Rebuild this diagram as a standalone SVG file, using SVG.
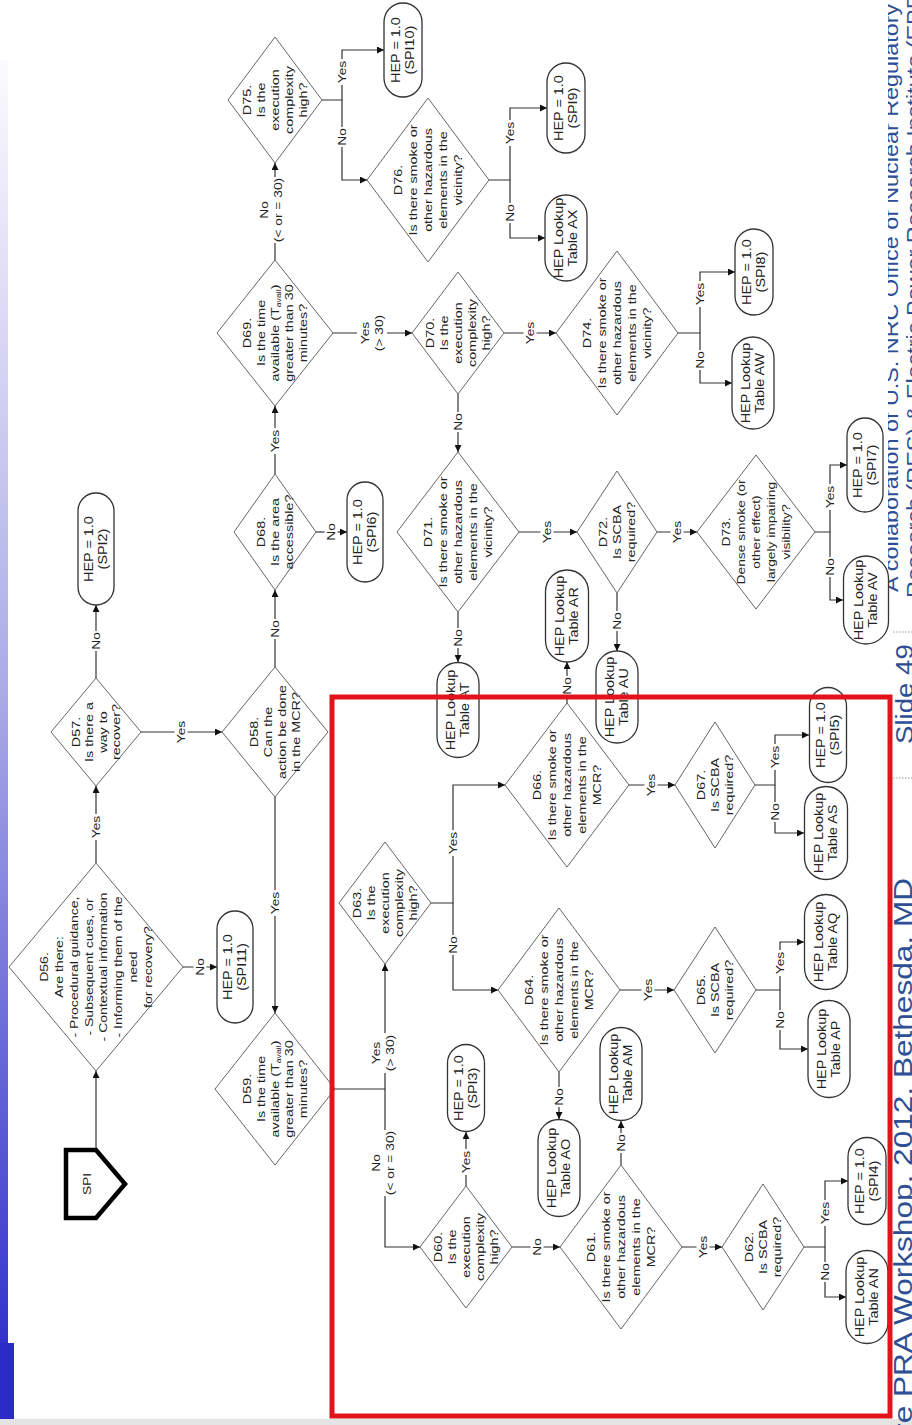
<svg xmlns="http://www.w3.org/2000/svg" width="912" height="1425" viewBox="0 0 912 1425">
<defs>
<style>
.d{fill:#fff;stroke:#666;stroke-width:1}
.p{fill:#fff;stroke:#333;stroke-width:1.3}
.t{font-family:"Liberation Sans",Arial,sans-serif;font-size:11.5px;fill:#222;text-anchor:middle}
.pt{font-size:12px}
.ca{fill:none;stroke:#333;stroke-width:1.2;marker-end:url(#ah)}
.lb{fill:#fff}
.ft{font-family:"Liberation Sans",Arial,sans-serif;fill:#2f4f95}
</style>
<marker id="ah" viewBox="0 0 10 10" refX="10" refY="5" markerWidth="8" markerHeight="7" markerUnits="userSpaceOnUse" orient="auto"><path d="M0,0 L10,5 L0,10 z" fill="#111"/></marker>
<linearGradient id="bar" x1="0" y1="0" x2="0" y2="1"><stop offset="0" stop-color="#fbfbff"/><stop offset="0.5" stop-color="#a9a9e6"/><stop offset="1" stop-color="#3333cc"/></linearGradient>
</defs>
<rect width="912" height="1425" fill="#fff"/>
<g id="slide">
<rect x="0" y="60" width="8" height="1283" fill="url(#bar)"/>
<rect x="0" y="1343" width="14" height="76" fill="#2a2ac6"/>
<rect x="0" y="1419" width="912" height="6" fill="#e4e4e4"/>
<text class="ft" font-size="20" transform="translate(898,592) rotate(-90) scale(1.17,1)">A collaboration of U.S. NRC Office of Nuclear Regulatory</text>
<text class="ft" font-size="20" transform="translate(921,598) rotate(-90) scale(1.17,1)">Research (RES) &amp; Electric Power Research Institute (EPRI)</text>
<rect x="868" y="0" width="20" height="630" fill="#fff"/>
<line x1="893" y1="632" x2="912" y2="632" stroke="#999" stroke-width="1" stroke-dasharray="1.5,1.5"/>
<line x1="893" y1="778" x2="912" y2="778" stroke="#999" stroke-width="1" stroke-dasharray="1.5,1.5"/>
<text class="ft" font-size="24" fill="#1f3b87" transform="translate(913,744) rotate(-90) scale(1.15,1)">Slide 49</text>
<text class="ft" font-size="26" text-anchor="end" transform="translate(912,878) rotate(-90) scale(1.215,1)">Fire PRA Workshop, 2012, Bethesda, MD</text>
</g>

<g id="connectors">
<path class="ca" d="M96,1150 V1071"/>
<path class="ca" d="M96,863 V786"/>
<path class="ca" d="M183,967 H217"/>
<path class="ca" d="M96,678 V605"/>
<path class="ca" d="M141,732 H222"/>
<path class="ca" d="M275,667 V590"/>
<path class="ca" d="M275,797 V1013"/>
<path class="ca" d="M275,474 V406"/>
<path class="ca" d="M316,532 H347"/>
<path class="ca" d="M275,260 V163"/>
<path class="ca" d="M333,333 H412"/>
<path class="ca" d="M322,100 H342 V50 H384"/>
<path class="ca" d="M342,100 V180 H367"/>
<path class="ca" d="M489,180 H510 V108 H547"/>
<path class="ca" d="M510,180 V238 H545"/>
<path class="ca" d="M504,333 H556"/>
<path class="ca" d="M458,394 V452"/>
<path class="ca" d="M678,333 H700 V272 H735"/>
<path class="ca" d="M700,333 V383 H732"/>
<path class="ca" d="M519,532 H577"/>
<path class="ca" d="M458,612 V662"/>
<path class="ca" d="M657,532 H697"/>
<path class="ca" d="M617,593 V651"/>
<path class="ca" d="M815,532 H830 V465 H847"/>
<path class="ca" d="M830,532 V600 H843"/>
<path class="ca" d="M335,1089 H385 V964"/>
<path class="ca" d="M385,1089 V1247 H420"/>
<path class="ca" d="M431,903 H453 V785 H505"/>
<path class="ca" d="M453,903 V990 H498"/>
<path class="ca" d="M567,703 V662"/>
<path class="ca" d="M629,785 H675"/>
<path class="ca" d="M755,785 H775 V735 H809"/>
<path class="ca" d="M775,785 V833 H804"/>
<path class="ca" d="M559,1072 V1119"/>
<path class="ca" d="M620,990 H674"/>
<path class="ca" d="M756,990 H780 V942 H804"/>
<path class="ca" d="M780,990 V1049 H808"/>
<path class="ca" d="M466,1186 V1132"/>
<path class="ca" d="M512,1247 H560"/>
<path class="ca" d="M621,1165 V1121"/>
<path class="ca" d="M682,1247 H722"/>
<path class="ca" d="M804,1247 H825 V1181 H848"/>
<path class="ca" d="M825,1247 V1297 H846"/>
</g>

<g id="labels">
<g transform="translate(96,827)"><rect class="lb" x="-6.5" y="-13" width="13" height="26"/><text class="t" transform="rotate(-90) scale(1.2,1)" y="4">Yes</text></g>
<g transform="translate(200,967)"><rect class="lb" x="-6.5" y="-10" width="13" height="20"/><text class="t" transform="rotate(-90) scale(1.2,1)" y="4">No</text></g>
<g transform="translate(96,641)"><rect class="lb" x="-6.5" y="-10" width="13" height="20"/><text class="t" transform="rotate(-90) scale(1.2,1)" y="4">No</text></g>
<g transform="translate(181,732)"><rect class="lb" x="-6.5" y="-13" width="13" height="26"/><text class="t" transform="rotate(-90) scale(1.2,1)" y="4">Yes</text></g>
<g transform="translate(275,629)"><rect class="lb" x="-6.5" y="-10" width="13" height="20"/><text class="t" transform="rotate(-90) scale(1.2,1)" y="4">No</text></g>
<g transform="translate(275,903)"><rect class="lb" x="-6.5" y="-13" width="13" height="26"/><text class="t" transform="rotate(-90) scale(1.2,1)" y="4">Yes</text></g>
<g transform="translate(275,441)"><rect class="lb" x="-6.5" y="-13" width="13" height="26"/><text class="t" transform="rotate(-90) scale(1.2,1)" y="4">Yes</text></g>
<g transform="translate(331,532)"><rect class="lb" x="-6.5" y="-10" width="13" height="20"/><text class="t" transform="rotate(-90) scale(1.2,1)" y="4">No</text></g>
<g transform="translate(271,210)"><rect class="lb" x="-15" y="-33" width="30" height="66"/><text class="t" transform="rotate(-90) scale(1.2,1)"><tspan x="0" y="-3">No</tspan><tspan x="0" y="11">(&lt; or = 30)</tspan></text></g>
<g transform="translate(372,333)"><rect class="lb" x="-15" y="-20" width="30" height="40"/><text class="t" transform="rotate(-90) scale(1.2,1)"><tspan x="0" y="-3">Yes</tspan><tspan x="0" y="11">(&gt; 30)</tspan></text></g>
<g transform="translate(342,72)"><rect class="lb" x="-6.5" y="-13" width="13" height="26"/><text class="t" transform="rotate(-90) scale(1.2,1)" y="4">Yes</text></g>
<g transform="translate(342,137)"><rect class="lb" x="-6.5" y="-10" width="13" height="20"/><text class="t" transform="rotate(-90) scale(1.2,1)" y="4">No</text></g>
<g transform="translate(510,133)"><rect class="lb" x="-6.5" y="-13" width="13" height="26"/><text class="t" transform="rotate(-90) scale(1.2,1)" y="4">Yes</text></g>
<g transform="translate(510,213)"><rect class="lb" x="-6.5" y="-10" width="13" height="20"/><text class="t" transform="rotate(-90) scale(1.2,1)" y="4">No</text></g>
<g transform="translate(530,333)"><rect class="lb" x="-6.5" y="-13" width="13" height="26"/><text class="t" transform="rotate(-90) scale(1.2,1)" y="4">Yes</text></g>
<g transform="translate(458,422)"><rect class="lb" x="-6.5" y="-10" width="13" height="20"/><text class="t" transform="rotate(-90) scale(1.2,1)" y="4">No</text></g>
<g transform="translate(700,294)"><rect class="lb" x="-6.5" y="-13" width="13" height="26"/><text class="t" transform="rotate(-90) scale(1.2,1)" y="4">Yes</text></g>
<g transform="translate(700,360)"><rect class="lb" x="-6.5" y="-10" width="13" height="20"/><text class="t" transform="rotate(-90) scale(1.2,1)" y="4">No</text></g>
<g transform="translate(547,532)"><rect class="lb" x="-6.5" y="-13" width="13" height="26"/><text class="t" transform="rotate(-90) scale(1.2,1)" y="4">Yes</text></g>
<g transform="translate(458,638)"><rect class="lb" x="-6.5" y="-10" width="13" height="20"/><text class="t" transform="rotate(-90) scale(1.2,1)" y="4">No</text></g>
<g transform="translate(677,532)"><rect class="lb" x="-6.5" y="-13" width="13" height="26"/><text class="t" transform="rotate(-90) scale(1.2,1)" y="4">Yes</text></g>
<g transform="translate(617,621)"><rect class="lb" x="-6.5" y="-10" width="13" height="20"/><text class="t" transform="rotate(-90) scale(1.2,1)" y="4">No</text></g>
<g transform="translate(830,497)"><rect class="lb" x="-6.5" y="-13" width="13" height="26"/><text class="t" transform="rotate(-90) scale(1.2,1)" y="4">Yes</text></g>
<g transform="translate(830,567)"><rect class="lb" x="-6.5" y="-10" width="13" height="20"/><text class="t" transform="rotate(-90) scale(1.2,1)" y="4">No</text></g>
<g transform="translate(383,1053)"><rect class="lb" x="-15" y="-20" width="30" height="40"/><text class="t" transform="rotate(-90) scale(1.2,1)"><tspan x="0" y="-3">Yes</tspan><tspan x="0" y="11">(&gt; 30)</tspan></text></g>
<g transform="translate(383,1163)"><rect class="lb" x="-15" y="-33" width="30" height="66"/><text class="t" transform="rotate(-90) scale(1.2,1)"><tspan x="0" y="-3">No</tspan><tspan x="0" y="11">(&lt; or = 30)</tspan></text></g>
<g transform="translate(453,843)"><rect class="lb" x="-6.5" y="-13" width="13" height="26"/><text class="t" transform="rotate(-90) scale(1.2,1)" y="4">Yes</text></g>
<g transform="translate(453,945)"><rect class="lb" x="-6.5" y="-10" width="13" height="20"/><text class="t" transform="rotate(-90) scale(1.2,1)" y="4">No</text></g>
<g transform="translate(567,686)"><rect class="lb" x="-6.5" y="-10" width="13" height="20"/><text class="t" transform="rotate(-90) scale(1.2,1)" y="4">No</text></g>
<g transform="translate(651,785)"><rect class="lb" x="-6.5" y="-13" width="13" height="26"/><text class="t" transform="rotate(-90) scale(1.2,1)" y="4">Yes</text></g>
<g transform="translate(775,757)"><rect class="lb" x="-6.5" y="-13" width="13" height="26"/><text class="t" transform="rotate(-90) scale(1.2,1)" y="4">Yes</text></g>
<g transform="translate(775,812)"><rect class="lb" x="-6.5" y="-10" width="13" height="20"/><text class="t" transform="rotate(-90) scale(1.2,1)" y="4">No</text></g>
<g transform="translate(559,1097)"><rect class="lb" x="-6.5" y="-10" width="13" height="20"/><text class="t" transform="rotate(-90) scale(1.2,1)" y="4">No</text></g>
<g transform="translate(648,990)"><rect class="lb" x="-6.5" y="-13" width="13" height="26"/><text class="t" transform="rotate(-90) scale(1.2,1)" y="4">Yes</text></g>
<g transform="translate(780,963)"><rect class="lb" x="-6.5" y="-13" width="13" height="26"/><text class="t" transform="rotate(-90) scale(1.2,1)" y="4">Yes</text></g>
<g transform="translate(780,1020)"><rect class="lb" x="-6.5" y="-10" width="13" height="20"/><text class="t" transform="rotate(-90) scale(1.2,1)" y="4">No</text></g>
<g transform="translate(466,1162)"><rect class="lb" x="-6.5" y="-13" width="13" height="26"/><text class="t" transform="rotate(-90) scale(1.2,1)" y="4">Yes</text></g>
<g transform="translate(537,1247)"><rect class="lb" x="-6.5" y="-10" width="13" height="20"/><text class="t" transform="rotate(-90) scale(1.2,1)" y="4">No</text></g>
<g transform="translate(621,1143)"><rect class="lb" x="-6.5" y="-10" width="13" height="20"/><text class="t" transform="rotate(-90) scale(1.2,1)" y="4">No</text></g>
<g transform="translate(703,1247)"><rect class="lb" x="-6.5" y="-13" width="13" height="26"/><text class="t" transform="rotate(-90) scale(1.2,1)" y="4">Yes</text></g>
<g transform="translate(825,1213)"><rect class="lb" x="-6.5" y="-13" width="13" height="26"/><text class="t" transform="rotate(-90) scale(1.2,1)" y="4">Yes</text></g>
<g transform="translate(825,1272)"><rect class="lb" x="-6.5" y="-10" width="13" height="20"/><text class="t" transform="rotate(-90) scale(1.2,1)" y="4">No</text></g>
</g>

<g id="SPI"><polygon points="66,1150 96,1150 125,1184 96,1218 66,1218" fill="#fff" stroke="#000" stroke-width="4.5" stroke-linejoin="miter"/><text class="t" transform="translate(87,1184) rotate(-90) scale(1.2,1)" y="4">SPI</text></g>

<g id="D56" transform="translate(96,967)"><polygon class="d" points="0,-104 87,0 0,104 -87,0"/><text class="t" transform="rotate(-90) scale(1.22,1)"><tspan x="0" y="-48.5">D56.</tspan><tspan x="0" y="-33.5">Are there:</tspan><tspan x="0" y="-18.5">- Procedural guidance,</tspan><tspan x="0" y="-3.5">- Subsequent cues, or</tspan><tspan x="0" y="11.5">- Contextual information</tspan><tspan x="0" y="26.5">- Informing them of the</tspan><tspan x="0" y="41.5">need</tspan><tspan x="0" y="56.5">for recovery?</tspan></text></g>
<g id="D57" transform="translate(96,732)"><polygon class="d" points="0,-54 45,0 0,54 -45,0"/><text class="t" transform="rotate(-90) scale(1.25,1)"><tspan x="0" y="-16">D57.</tspan><tspan x="0" y="-3">Is there a</tspan><tspan x="0" y="10.5">way to</tspan><tspan x="0" y="24">recover?</tspan></text></g>
<g id="D58" transform="translate(275,732)"><polygon class="d" points="0,-65 53,0 0,65 -53,0"/><text class="t" transform="rotate(-90) scale(1.25,1)"><tspan x="0" y="-17">D58.</tspan><tspan x="0" y="-3">Can the</tspan><tspan x="0" y="11">action be done</tspan><tspan x="0" y="25">in the MCR?</tspan></text></g>
<g id="D68" transform="translate(275,532)"><polygon class="d" points="0,-58 41,0 0,58 -41,0"/><text class="t" transform="rotate(-90) scale(1.25,1)"><tspan x="0" y="-10">D68.</tspan><tspan x="0" y="4">Is the area</tspan><tspan x="0" y="18">accessible?</tspan></text></g>
<g id="D69" transform="translate(275,333)"><polygon class="d" points="0,-73 58,0 0,73 -58,0"/><text class="t" transform="rotate(-90) scale(1.25,1)"><tspan x="0" y="-24">D69.</tspan><tspan x="0" y="-10">Is the time</tspan><tspan x="0" y="4">available  (T<tspan font-size="7" dy="2">avail</tspan><tspan dy="-2">)</tspan></tspan><tspan x="0" y="18">greater than 30</tspan><tspan x="0" y="32">minutes?</tspan></text></g>
<g id="D59" transform="translate(275,1089)"><polygon class="d" points="0,-76 60,0 0,76 -60,0"/><text class="t" transform="rotate(-90) scale(1.25,1)"><tspan x="0" y="-24">D59.</tspan><tspan x="0" y="-10">Is the time</tspan><tspan x="0" y="4">available  (T<tspan font-size="7" dy="2">avail</tspan><tspan dy="-2">)</tspan></tspan><tspan x="0" y="18">greater than 30</tspan><tspan x="0" y="32">minutes?</tspan></text></g>
<g id="D75" transform="translate(275,100)"><polygon class="d" points="0,-63 47,0 0,63 -47,0"/><text class="t" transform="rotate(-90) scale(1.25,1)"><tspan x="0" y="-24">D75.</tspan><tspan x="0" y="-10">Is the</tspan><tspan x="0" y="4">execution</tspan><tspan x="0" y="18">complexity</tspan><tspan x="0" y="32">high?</tspan></text></g>
<g id="D76" transform="translate(428,180)"><polygon class="d" points="0,-82 61,0 0,82 -61,0"/><text class="t" transform="rotate(-90) scale(1.25,1)"><tspan x="0" y="-26">D76.</tspan><tspan x="0" y="-11">Is there smoke or</tspan><tspan x="0" y="4">other hazardous</tspan><tspan x="0" y="19">elements in the</tspan><tspan x="0" y="34">vicinity?</tspan></text></g>
<g id="D70" transform="translate(458,333)"><polygon class="d" points="0,-61 46,0 0,61 -46,0"/><text class="t" transform="rotate(-90) scale(1.25,1)"><tspan x="0" y="-24">D70.</tspan><tspan x="0" y="-10">Is the</tspan><tspan x="0" y="4">execution</tspan><tspan x="0" y="18">complexity</tspan><tspan x="0" y="32">high?</tspan></text></g>
<g id="D74" transform="translate(617,333)"><polygon class="d" points="0,-82 61,0 0,82 -61,0"/><text class="t" transform="rotate(-90) scale(1.25,1)"><tspan x="0" y="-26">D74.</tspan><tspan x="0" y="-11">Is there smoke or</tspan><tspan x="0" y="4">other hazardous</tspan><tspan x="0" y="19">elements in the</tspan><tspan x="0" y="34">vicinity?</tspan></text></g>
<g id="D71" transform="translate(458,532)"><polygon class="d" points="0,-80 61,0 0,80 -61,0"/><text class="t" transform="rotate(-90) scale(1.25,1)"><tspan x="0" y="-26">D71.</tspan><tspan x="0" y="-11">Is there smoke or</tspan><tspan x="0" y="4">other hazardous</tspan><tspan x="0" y="19">elements in the</tspan><tspan x="0" y="34">vicinity?</tspan></text></g>
<g id="D72" transform="translate(617,532)"><polygon class="d" points="0,-61 40,0 0,61 -40,0"/><text class="t" transform="rotate(-90) scale(1.25,1)"><tspan x="0" y="-10">D72.</tspan><tspan x="0" y="4">Is SCBA</tspan><tspan x="0" y="18">required?</tspan></text></g>
<g id="D73" transform="translate(756,532)"><polygon class="d" points="0,-77 59,0 0,77 -59,0"/><text class="t" transform="rotate(-90) scale(1.2,1)"><tspan x="0" y="-26">D73.</tspan><tspan x="0" y="-11">Dense smoke (or</tspan><tspan x="0" y="4">other effect)</tspan><tspan x="0" y="19">largely impairing</tspan><tspan x="0" y="34">visibility?</tspan></text></g>
<g id="D63" transform="translate(385,903)"><polygon class="d" points="0,-61 46,0 0,61 -46,0"/><text class="t" transform="rotate(-90) scale(1.25,1)"><tspan x="0" y="-24">D63.</tspan><tspan x="0" y="-10">Is the</tspan><tspan x="0" y="4">execution</tspan><tspan x="0" y="18">complexity</tspan><tspan x="0" y="32">high?</tspan></text></g>
<g id="D66" transform="translate(567,785)"><polygon class="d" points="0,-82 62,0 0,82 -62,0"/><text class="t" transform="rotate(-90) scale(1.25,1)"><tspan x="0" y="-26">D66.</tspan><tspan x="0" y="-11">Is there smoke or</tspan><tspan x="0" y="4">other hazardous</tspan><tspan x="0" y="19">elements in the</tspan><tspan x="0" y="34">MCR?</tspan></text></g>
<g id="D67" transform="translate(715,785)"><polygon class="d" points="0,-63 40,0 0,63 -40,0"/><text class="t" transform="rotate(-90) scale(1.25,1)"><tspan x="0" y="-10">D67.</tspan><tspan x="0" y="4">Is SCBA</tspan><tspan x="0" y="18">required?</tspan></text></g>
<g id="D64" transform="translate(559,990)"><polygon class="d" points="0,-82 61,0 0,82 -61,0"/><text class="t" transform="rotate(-90) scale(1.25,1)"><tspan x="0" y="-26">D64.</tspan><tspan x="0" y="-11">Is there smoke or</tspan><tspan x="0" y="4">other hazardous</tspan><tspan x="0" y="19">elements in the</tspan><tspan x="0" y="34">MCR?</tspan></text></g>
<g id="D65" transform="translate(715,990)"><polygon class="d" points="0,-63 41,0 0,63 -41,0"/><text class="t" transform="rotate(-90) scale(1.25,1)"><tspan x="0" y="-10">D65.</tspan><tspan x="0" y="4">Is SCBA</tspan><tspan x="0" y="18">required?</tspan></text></g>
<g id="D60" transform="translate(466,1247)"><polygon class="d" points="0,-61 46,0 0,61 -46,0"/><text class="t" transform="rotate(-90) scale(1.25,1)"><tspan x="0" y="-24">D60.</tspan><tspan x="0" y="-10">Is the</tspan><tspan x="0" y="4">execution</tspan><tspan x="0" y="18">complexity</tspan><tspan x="0" y="32">high?</tspan></text></g>
<g id="D61" transform="translate(621,1247)"><polygon class="d" points="0,-82 61,0 0,82 -61,0"/><text class="t" transform="rotate(-90) scale(1.25,1)"><tspan x="0" y="-26">D61.</tspan><tspan x="0" y="-11">Is there smoke or</tspan><tspan x="0" y="4">other hazardous</tspan><tspan x="0" y="19">elements in the</tspan><tspan x="0" y="34">MCR?</tspan></text></g>
<g id="D62" transform="translate(763,1247)"><polygon class="d" points="0,-63 41,0 0,63 -41,0"/><text class="t" transform="rotate(-90) scale(1.25,1)"><tspan x="0" y="-10">D62.</tspan><tspan x="0" y="4">Is SCBA</tspan><tspan x="0" y="18">required?</tspan></text></g>

<g id="SPI2" transform="translate(96,549)"><rect class="p" x="-18" y="-56" width="36" height="112" rx="18"/><text class="t pt" transform="rotate(-90) scale(1.2,1)"><tspan x="0" y="-3">HEP = 1.0</tspan><tspan x="0" y="11.5">(SPI2)</tspan></text></g>
<g id="SPI11" transform="translate(235,967)"><rect class="p" x="-18" y="-56" width="36" height="112" rx="18"/><text class="t pt" transform="rotate(-90) scale(1.2,1)"><tspan x="0" y="-3">HEP = 1.0</tspan><tspan x="0" y="11.5">(SPI11)</tspan></text></g>
<g id="SPI6" transform="translate(365,532)"><rect class="p" x="-18" y="-50" width="36" height="100" rx="18"/><text class="t pt" transform="rotate(-90) scale(1.2,1)"><tspan x="0" y="-3">HEP = 1.0</tspan><tspan x="0" y="11.5">(SPI6)</tspan></text></g>
<g id="SPI10" transform="translate(403,50)"><rect class="p" x="-19" y="-47" width="38" height="94" rx="19"/><text class="t pt" transform="rotate(-90) scale(1.2,1)"><tspan x="0" y="-3">HEP = 1.0</tspan><tspan x="0" y="11.5">(SPI10)</tspan></text></g>
<g id="SPI9" transform="translate(566,108)"><rect class="p" x="-19" y="-45" width="38" height="90" rx="19"/><text class="t pt" transform="rotate(-90) scale(1.2,1)"><tspan x="0" y="-3">HEP = 1.0</tspan><tspan x="0" y="11.5">(SPI9)</tspan></text></g>
<g id="AX" transform="translate(566,238)"><rect class="p" x="-21" y="-43" width="42" height="86" rx="21"/><text class="t pt" transform="rotate(-90) scale(1.2,1)"><tspan x="0" y="-3">HEP Lookup</tspan><tspan x="0" y="11.5">Table AX</tspan></text></g>
<g id="SPI8" transform="translate(754,272)"><rect class="p" x="-19" y="-43" width="38" height="86" rx="19"/><text class="t pt" transform="rotate(-90) scale(1.2,1)"><tspan x="0" y="-3">HEP = 1.0</tspan><tspan x="0" y="11.5">(SPI8)</tspan></text></g>
<g id="AW" transform="translate(753,383)"><rect class="p" x="-21" y="-46" width="42" height="92" rx="21"/><text class="t pt" transform="rotate(-90) scale(1.2,1)"><tspan x="0" y="-3">HEP Lookup</tspan><tspan x="0" y="11.5">Table AW</tspan></text></g>
<g id="AT" transform="translate(458,710)"><rect class="p" x="-21" y="-47.5" width="42" height="95" rx="21"/><text class="t pt" transform="rotate(-90) scale(1.2,1)"><tspan x="0" y="-3">HEP Lookup</tspan><tspan x="0" y="11.5">Table AT</tspan></text></g>
<g id="AU" transform="translate(617,697)"><rect class="p" x="-21" y="-46" width="42" height="92" rx="21"/><text class="t pt" transform="rotate(-90) scale(1.2,1)"><tspan x="0" y="-3">HEP Lookup</tspan><tspan x="0" y="11.5">Table AU</tspan></text></g>
<g id="SPI7" transform="translate(865,465)"><rect class="p" x="-18" y="-47" width="36" height="94" rx="18"/><text class="t pt" transform="rotate(-90) scale(1.2,1)"><tspan x="0" y="-3">HEP = 1.0</tspan><tspan x="0" y="11.5">(SPI7)</tspan></text></g>
<g id="AV" transform="translate(866,600)"><rect class="p" x="-22.5" y="-44" width="45" height="88" rx="22.5"/><text class="t pt" transform="rotate(-90) scale(1.2,1)"><tspan x="0" y="-3">HEP Lookup</tspan><tspan x="0" y="11.5">Table AV</tspan></text></g>
<g id="AR" transform="translate(567,616)"><rect class="p" x="-21.5" y="-46" width="43" height="92" rx="21.5"/><text class="t pt" transform="rotate(-90) scale(1.2,1)"><tspan x="0" y="-3">HEP Lookup</tspan><tspan x="0" y="11.5">Table AR</tspan></text></g>
<g id="SPI5" transform="translate(828,735)"><rect class="p" x="-18.5" y="-47.5" width="37" height="95" rx="18.5"/><text class="t pt" transform="rotate(-90) scale(1.2,1)"><tspan x="0" y="-3">HEP = 1.0</tspan><tspan x="0" y="11.5">(SPI5)</tspan></text></g>
<g id="AS" transform="translate(826,833)"><rect class="p" x="-21.5" y="-46.5" width="43" height="93" rx="21.5"/><text class="t pt" transform="rotate(-90) scale(1.2,1)"><tspan x="0" y="-3">HEP Lookup</tspan><tspan x="0" y="11.5">Table AS</tspan></text></g>
<g id="AQ" transform="translate(826,942)"><rect class="p" x="-21.5" y="-47.5" width="43" height="95" rx="21.5"/><text class="t pt" transform="rotate(-90) scale(1.2,1)"><tspan x="0" y="-3">HEP Lookup</tspan><tspan x="0" y="11.5">Table AQ</tspan></text></g>
<g id="AP" transform="translate(829,1049)"><rect class="p" x="-21" y="-48.5" width="42" height="97" rx="21"/><text class="t pt" transform="rotate(-90) scale(1.2,1)"><tspan x="0" y="-3">HEP Lookup</tspan><tspan x="0" y="11.5">Table AP</tspan></text></g>
<g id="AO" transform="translate(559,1168)"><rect class="p" x="-21" y="-48.5" width="42" height="97" rx="21"/><text class="t pt" transform="rotate(-90) scale(1.2,1)"><tspan x="0" y="-3">HEP Lookup</tspan><tspan x="0" y="11.5">Table AO</tspan></text></g>
<g id="SPI3" transform="translate(466,1088)"><rect class="p" x="-18.5" y="-43.5" width="37" height="87" rx="18.5"/><text class="t pt" transform="rotate(-90) scale(1.2,1)"><tspan x="0" y="-3">HEP = 1.0</tspan><tspan x="0" y="11.5">(SPI3)</tspan></text></g>
<g id="AM" transform="translate(621,1074)"><rect class="p" x="-21" y="-46.5" width="42" height="93" rx="21"/><text class="t pt" transform="rotate(-90) scale(1.2,1)"><tspan x="0" y="-3">HEP Lookup</tspan><tspan x="0" y="11.5">Table AM</tspan></text></g>
<g id="SPI4" transform="translate(867,1181)"><rect class="p" x="-19" y="-43.5" width="38" height="87" rx="19"/><text class="t pt" transform="rotate(-90) scale(1.2,1)"><tspan x="0" y="-3">HEP = 1.0</tspan><tspan x="0" y="11.5">(SPI4)</tspan></text></g>
<g id="AN" transform="translate(867,1297)"><rect class="p" x="-21" y="-46.5" width="42" height="93" rx="21"/><text class="t pt" transform="rotate(-90) scale(1.2,1)"><tspan x="0" y="-3">HEP Lookup</tspan><tspan x="0" y="11.5">Table AN</tspan></text></g>

<rect id="highlight" x="332" y="697" width="558" height="719" fill="none" stroke="#e3131b" stroke-width="5"/>
</svg>
